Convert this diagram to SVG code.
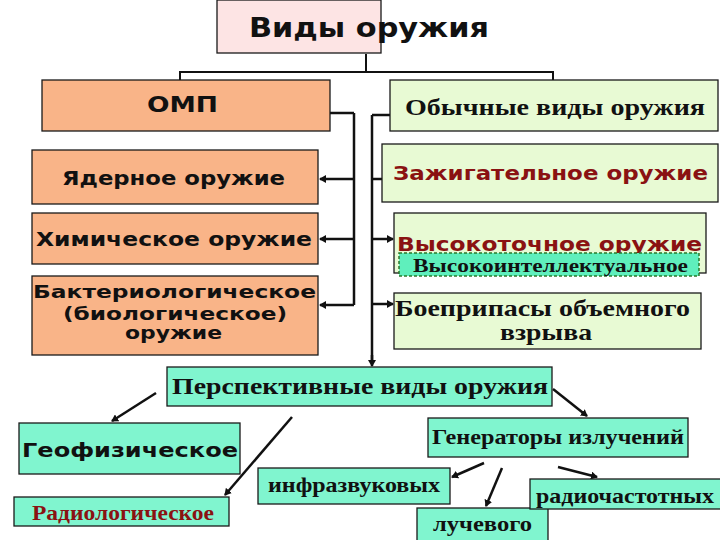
<svg xmlns="http://www.w3.org/2000/svg" width="720" height="540" viewBox="0 0 720 540">
<style>
.box{stroke:#1a1a1a;stroke-width:1.3}
.pink{fill:#fde4e4}
.salmon{fill:#f9b488}
.lg{fill:#e8fad4}
.aq{fill:#80f5cf}
.sans{font-family:"DejaVu Sans","Liberation Sans",sans-serif;font-weight:bold;fill:#111}
.serif{font-family:"Liberation Serif","Times New Roman",serif;font-weight:bold;fill:#111}
.red{fill:#8a1212}
.ln{stroke:#111;stroke-width:2.5;fill:none}
.ar{stroke:#111;stroke-width:2.5;fill:none;marker-end:url(#ah)}
</style>
<defs>
<marker id="ah" markerWidth="8" markerHeight="8" refX="6" refY="4" orient="auto" markerUnits="userSpaceOnUse">
<path d="M0,0 L7,4 L0,8 z" fill="#111"/>
</marker>
</defs>
<rect width="720" height="540" fill="#fff"/>
<g id="connectors">
<path class="ln" d="M366,54 V72 M180,80 V72 H553 V80" style="stroke-width:2"/>
<path class="ln" d="M330,113 H354 M354,113 V305"/>
<path class="ar" d="M354,179 H320"/>
<path class="ar" d="M354,239 H320"/>
<path class="ar" d="M354,305 H320"/>
<path class="ln" d="M390,115 H372 M372,115 V360"/>
<path class="ar" d="M372,355 V366"/>
<path class="ar" d="M372,179 H390"/>
<path class="ar" d="M372,239 H393"/>
<path class="ar" d="M372,304 H393"/>
<path class="ar" d="M156,393 L112,421"/>
<path class="ar" d="M292,417 L225,495"/>
<path class="ar" d="M553,389 L587,416"/>
<path class="ar" d="M484,463 L452,477"/>
<path class="ar" d="M502,468 L486,506"/>
<path class="ar" d="M558,467 L597,477"/>
</g>
<g id="n-vidy"><rect class="box pink" x="217" y="0" width="164" height="53"/><text class="sans" x="249" y="37" font-size="27" textLength="240" lengthAdjust="spacingAndGlyphs">Виды оружия</text></g>
<g id="n-omp"><rect class="box salmon" x="42" y="80" width="288" height="51"/><text class="sans" x="147" y="112" font-size="22" textLength="71" lengthAdjust="spacingAndGlyphs">ОМП</text></g>
<g id="n-obych"><rect class="box lg" x="390" y="80" width="328" height="51"/><text class="serif" x="405" y="115" font-size="24" textLength="300" lengthAdjust="spacingAndGlyphs">Обычные виды оружия</text></g>
<g id="n-yad"><rect class="box salmon" x="32" y="150" width="286" height="54"/><text class="sans" x="62" y="185" font-size="19" textLength="223" lengthAdjust="spacingAndGlyphs">Ядерное оружие</text></g>
<g id="n-him"><rect class="box salmon" x="32" y="213" width="286" height="51"/><text class="sans" x="36" y="246" font-size="19" textLength="276" lengthAdjust="spacingAndGlyphs">Химическое оружие</text></g>
<g id="n-bakt"><rect class="box salmon" x="32" y="276" width="286" height="79"/>
<text class="sans" x="33" y="298" font-size="18" textLength="283" lengthAdjust="spacingAndGlyphs">Бактериологическое</text>
<text class="sans" x="63" y="320" font-size="18" textLength="224" lengthAdjust="spacingAndGlyphs">(биологическое)</text>
<text class="sans" x="125" y="339" font-size="18" textLength="97" lengthAdjust="spacingAndGlyphs">оружие</text></g>
<g id="n-zazh"><rect class="box lg" x="382" y="144" width="336" height="58"/><text class="sans red" x="393" y="180" font-size="19" textLength="315" lengthAdjust="spacingAndGlyphs">Зажигательное оружие</text></g>
<g id="n-vys"><rect class="box lg" x="394" y="213" width="312" height="60"/><text class="sans red" x="397" y="251" font-size="20" textLength="305" lengthAdjust="spacingAndGlyphs">Высокоточное оружие</text>
<rect x="399" y="253" width="300" height="23" fill="#5fefbc" stroke="#2a7a2a" stroke-width="1.5" stroke-dasharray="3,2"/>
<text class="serif" x="413" y="272" font-size="19" textLength="275" lengthAdjust="spacingAndGlyphs">Высокоинтеллектуальное</text></g>
<g id="n-boepr"><rect class="box lg" x="394" y="293" width="307" height="56"/>
<text class="serif" x="395" y="316" font-size="23" textLength="295" lengthAdjust="spacingAndGlyphs">Боеприпасы объемного</text>
<text class="serif" x="500" y="340" font-size="23" textLength="92" lengthAdjust="spacingAndGlyphs">взрыва</text></g>
<g id="n-persp"><rect class="box aq" x="167" y="367" width="385" height="39"/><text class="serif" x="172" y="394" font-size="24" textLength="376" lengthAdjust="spacingAndGlyphs">Перспективные виды оружия</text></g>
<g id="n-geo"><rect class="box aq" x="19" y="423" width="221" height="51"/><text class="sans" x="22" y="457" font-size="20" textLength="216" lengthAdjust="spacingAndGlyphs">Геофизическое</text></g>
<g id="n-radio"><rect class="box aq" x="14" y="497" width="215" height="29"/><text class="serif red" x="32" y="520" font-size="20" textLength="182" lengthAdjust="spacingAndGlyphs">Радиологическое</text></g>
<g id="n-gen"><rect class="box aq" x="428" y="418" width="260" height="39"/><text class="serif" x="432" y="444" font-size="22" textLength="252" lengthAdjust="spacingAndGlyphs">Генераторы излучений</text></g>
<g id="n-infra"><rect class="box aq" x="258" y="468" width="192" height="36"/><text class="serif" x="268" y="492" font-size="21" textLength="172" lengthAdjust="spacingAndGlyphs">инфразвуковых</text></g>
<g id="n-luch"><rect class="box aq" x="417" y="508" width="131" height="40"/><text class="serif" x="433" y="531" font-size="21" textLength="99" lengthAdjust="spacingAndGlyphs">лучевого</text></g>
<g id="n-radch"><rect class="box aq" x="530" y="479" width="195" height="30"/><text class="serif" x="536" y="503" font-size="21" textLength="178" lengthAdjust="spacingAndGlyphs">радиочастотных</text></g>
</svg>
